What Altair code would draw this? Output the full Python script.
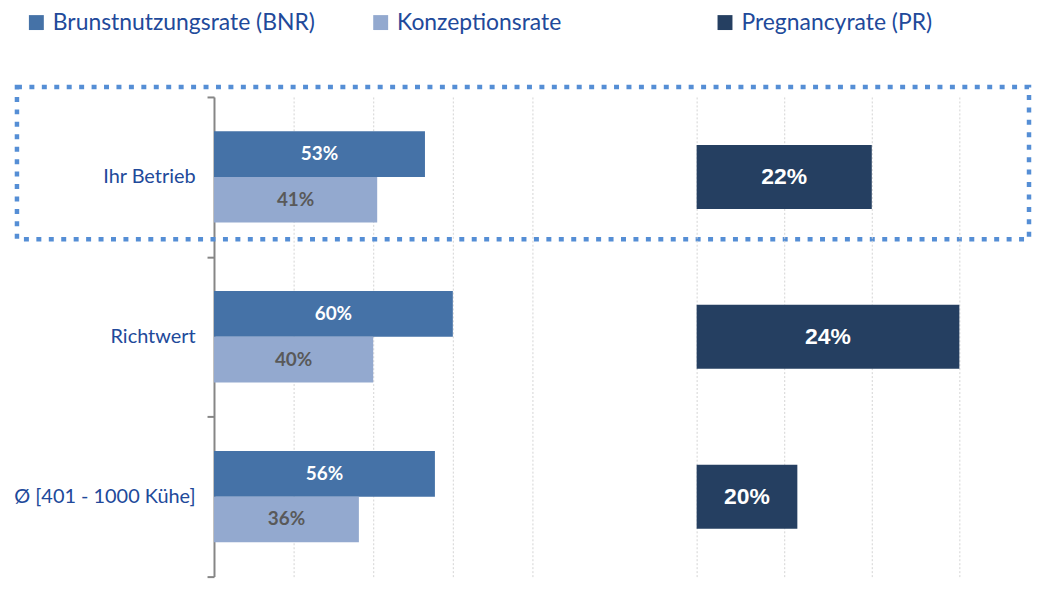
import altair as alt
import pandas as pd

# ---------------- data ----------------
categories = ["Ihr Betrieb", "Richtwert", "Ø [401 - 1000 Kühe]"]
series_names = ["Brunstnutzungsrate (BNR)", "Konzeptionsrate", "Pregnancyrate (PR)"]
bnr_values = [53.0, 60.0, 55.5]
konz_values = [41.0, 40.0, 36.4]
pr_values = [22.0, 24.0, 20.3]
left_axis_ticks = [0, 20, 40, 60, 80]
right_axis_ticks = [18, 20, 22, 24]
right_axis_min = 18
highlight_category = ["Ihr Betrieb"]

# ---------------- style ----------------
series_colors = ["#4572A7", "#93A9CF", "#253F61"]
TXT = "#21499A"
FONT = "Lato"
FONT_R = "Liberation Sans"
GRID = "#d4d4d4"

left_df = pd.DataFrame({
    "Kategorie": categories * 2,
    "Reihe": [series_names[0]] * 3 + [series_names[1]] * 3,
    "Wert": bnr_values + konz_values,
})
right_df = pd.DataFrame({
    "Kategorie": categories,
    "Reihe": [series_names[2]] * 3,
    "Wert": pr_values,
})

color_scale = alt.Scale(domain=series_names, range=series_colors)

H = 482
WL = 320
WR = 336

# ---------------- left panel ----------------
y_left = alt.Y(
    "Kategorie:N", sort=categories,
    scale=alt.Scale(domain=categories, paddingInner=0, paddingOuter=0),
    axis=alt.Axis(title=None, labelFont=FONT, labelFontSize=20, labelColor=TXT,
                  labelPadding=12, domainColor="#868686", domainWidth=2,
                  tickColor="#868686", tickWidth=2, tickSize=7, tickBand="extent",
                  labelLimit=300),
)
x_left_axis = alt.Axis(title=None, labels=False, ticks=False, domain=False, grid=True,
                       values=left_axis_ticks, gridColor=GRID, gridDash=[2, 2])
x_left_scale = alt.Scale(domain=[0, 80], nice=False)

base_l = alt.Chart(left_df).encode(
    y=y_left,
    yOffset=alt.YOffset("Reihe:N", sort=series_names[:2],
                        scale=alt.Scale(paddingInner=0, paddingOuter=0.75)),
)

bars_l = base_l.mark_bar().encode(
    x=alt.X("Wert:Q", scale=x_left_scale, axis=x_left_axis),
    color=alt.Color(
        "Reihe:N", scale=color_scale,
        legend=alt.Legend(title=None, orient="none", legendX=-190, legendY=-86.5,
                          direction="horizontal", columns=3, gridAlign="all",
                          columnPadding=54, symbolType="square", symbolSize=225,
                          symbolStrokeWidth=0, labelFont=FONT, labelFontSize=23,
                          labelColor=TXT, labelOffset=5, labelLimit=400, padding=0),
    ),
)

text_l = base_l.transform_calculate(
    mitte="datum.Wert / 2",
    label="format(datum.Wert, '.0f') + '%'",
).mark_text(font=FONT, fontSize=19, fontWeight="bold").encode(
    x=alt.X("mitte:Q", scale=x_left_scale, axis=x_left_axis),
    text="label:N",
    color=alt.condition(alt.datum.Reihe == series_names[0], alt.value("white"),
                        alt.value("#595959")),
)

frame = alt.Chart(pd.DataFrame({"Markierung": highlight_category})).mark_rect(
    filled=False, stroke="#558ED5", strokeWidth=4.5, strokeDash=[5, 7.5]
).encode(x=alt.value(-198), x2=alt.value(819), y=alt.value(-10), y2=alt.value(143))

left = alt.layer(bars_l, text_l, frame).properties(width=WL, height=H)

# ---------------- right panel ----------------
y_right = alt.Y("Kategorie:N", sort=categories,
                scale=alt.Scale(domain=categories, paddingInner=0.6, paddingOuter=0.3),
                axis=None)
x_right_scale = alt.Scale(domain=[right_axis_min, right_axis_min + WR / 44.0],
                          nice=False, zero=False)
x_right_axis = alt.Axis(title=None, labels=False, ticks=False, domain=False, grid=True,
                        values=right_axis_ticks, gridColor=GRID, gridDash=[2, 2])

base_r = alt.Chart(right_df).encode(y=y_right)
bars_r = base_r.mark_bar().encode(
    x=alt.X("Wert:Q", scale=x_right_scale, axis=x_right_axis),
    x2=alt.X2(datum=right_axis_min),
    color=alt.Color("Reihe:N", scale=color_scale, legend=None),
)
text_r = base_r.transform_calculate(
    mitte=f"(datum.Wert + {right_axis_min}) / 2",
    label="format(datum.Wert, '.0f') + '%'",
).mark_text(font=FONT_R, fontSize=23, fontWeight="bold", color="white").encode(
    x=alt.X("mitte:Q", scale=x_right_scale, axis=x_right_axis),
    text="label:N",
)
right = alt.layer(bars_r, text_r).properties(width=WR, height=H)

chart = alt.hconcat(left, right, spacing=165, bounds="flush").resolve_scale(
    color="independent", y="independent", x="independent"
).properties(
    padding={"left": 5, "top": 1, "right": 0, "bottom": 0},
    background="white",
).configure_view(strokeWidth=0, stroke="transparent")

chart.save("out.html", embed_options={"renderer": "svg", "actions": False})
